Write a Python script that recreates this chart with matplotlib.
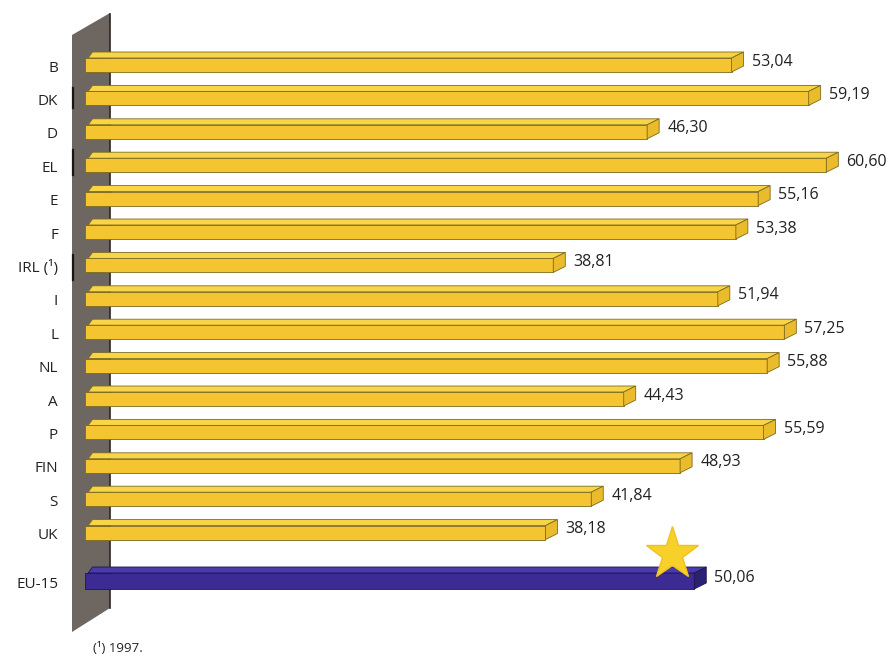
import numpy as np
import matplotlib
matplotlib.use("Agg")
import matplotlib.pyplot as plt
from matplotlib.patches import Polygon

countries = ['B', 'DK', 'D', 'EL', 'E', 'F', 'IRL (¹)', 'I', 'L', 'NL', 'A', 'P', 'FIN', 'S', 'UK']
values = [53.04, 59.19, 46.30, 60.60, 55.16, 53.38, 38.81, 51.94, 57.25, 55.88, 44.43, 55.59, 48.93, 41.84, 38.18]
eu_label = 'EU-15'
eu_value = 50.06
footnote = '(¹) 1997.'

plt.rcParams['font.family'] = ['Open Sans', 'DejaVu Sans']

# pixel geometry of the figure
W, H = 889, 662
SX = 12.53      # px per value unit
SY = 33.4       # px per row
X0PX, Y0PX = 67, 65

fig = plt.figure(figsize=(W / 100, H / 100), dpi=100)
ax = fig.add_axes([0, 0, 1, 1])
ax.set_xlim(-X0PX / SX, (W - X0PX) / SX)
ax.set_ylim((H - Y0PX) / SY, -Y0PX / SY)
ax.axis('off')

def px(x, y):
    return ((x - X0PX) / SX, (y - Y0PX) / SY)

# the grey wall
wall = Polygon([px(72, 35), px(110, 13), px(110, 608), px(72, 632)],
               closed=True, fc='#6e6661', ec='none', zorder=1)
ax.add_patch(wall)
ax.plot(*zip(px(110, 14), px(110, 608)), color='#2a2624', lw=1.2, zorder=1.5)
for y_a, y_b in [(88, 108), (150, 175), (255, 280)]:
    ax.plot(*zip(px(73, y_a), px(73, y_b)), color='#1a1716', lw=1.6, zorder=1.5)

dx = 12 / SX
dy = -6 / SY
start = px(85, 0)[0]


def bar3d(y, v, half, front, top, side, edge, z):
    h = half / SY
    f = Polygon([(start, y - h), (v, y - h), (v, y + h), (start, y + h)],
                fc=front, ec=edge, lw=0.6, zorder=z, joinstyle='round')
    t = Polygon([(start + 0.25, y - h), (v, y - h), (v + dx, y - h + dy), (start + 0.6, y - h + dy)],
                fc=top, ec=edge, lw=0.6, zorder=z)
    s = Polygon([(v, y - h), (v + dx, y - h + dy), (v + dx, y + h + dy), (v, y + h)],
                fc=side, ec=edge, lw=0.6, zorder=z)
    for p in (f, t, s):
        ax.add_patch(p)


rows = np.arange(len(countries))
for y, v, name in zip(rows, values, countries):
    bar3d(y, v, 7, '#f5c531', '#f8d548', '#eabb2a', '#7c6a20', 3)
    ax.text(v + dx + 0.65, y - 0.1, f'{v:.2f}'.replace('.', ','),
            ha='left', va='center', fontsize=11.5, color='#222222', zorder=5)
    ax.text(px(58, 0)[0], y + 0.09, name, ha='right', va='center',
            fontsize=11, color='#222222', zorder=5)

eu_y = px(0, 581)[1]
bar3d(eu_y, eu_value, 8, '#3b2b93', '#4a3aab', '#2c2075', '#1e1650', 3)
# star sitting on the EU bar
ax.plot(eu_value - 1.76, eu_y - 0.8, marker='*', markersize=40,
        color='#f7d02a', mec='#f2c21c', zorder=4)
ax.text(eu_value + dx + 0.65, eu_y - 0.1, f'{eu_value:.2f}'.replace('.', ','),
        ha='left', va='center', fontsize=11.5, color='#222222', zorder=5)
ax.text(px(58, 0)[0], eu_y + 0.09, eu_label, ha='right', va='center',
        fontsize=11, color='#222222', zorder=5)

fx, fy = px(93, 648)
ax.text(fx, fy, footnote, ha='left', va='center', fontsize=9.5, color='#222222')

fig.savefig('out.png', dpi=100)
